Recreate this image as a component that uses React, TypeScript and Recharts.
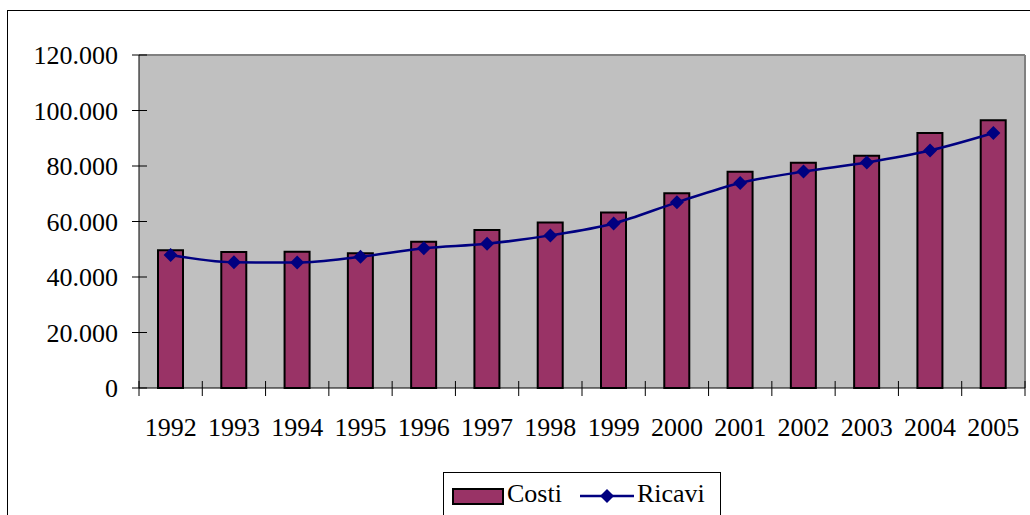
import React from "react";
import {
  ComposedChart,
  Bar,
  Line,
  XAxis,
  YAxis,
  CartesianGrid,
  Legend,
} from "recharts";

const years = ["1992", "1993", "1994", "1995", "1996", "1997", "1998", "1999", "2000", "2001", "2002", "2003", "2004", "2005"];
const costi = [49600, 49000, 49100, 48600, 52700, 56900, 59600, 63200, 70200, 77900, 81200, 83700, 91900, 96500];
const ricavi = [47900, 45300, 45200, 47300, 50400, 52000, 55000, 59300, 66900, 73900, 78000, 81300, 85600, 91900];
const yTicks = [0, 20000, 40000, 60000, 80000, 100000, 120000];

const FONT = "Liberation Serif";
const BAR = "#993366";
const LINE = "#000080";

const data = years.map((y, i) => ({ year: y, costi: costi[i], ricavi: ricavi[i] }));

const fmt = (v: number) => String(v).replace(/\B(?=(\d{3})+(?!\d))/g, ".");

const YTick = (props: any) => {
  const { x, y, payload } = props;
  const ax = x + 7 + 14;
  return (
    <g>
      <line x1={ax - 7} x2={ax + 8} y1={y} y2={y} stroke="#000" strokeWidth={1} />
      <text x={ax - 21} y={y} dy="0.35em" textAnchor="end" fontSize={26} fontFamily={FONT} fill="#000">
        {fmt(payload.value)}
      </text>
    </g>
  );
};

// etichetta anno + tacche sui bordi delle categorie
const XTick = (props: any) => {
  const { x, y, payload, index, visibleTicksCount, width } = props;
  const step = width / visibleTicksCount;
  const ay = y - 30;
  const left = x - step / 2;
  return (
    <g>
      <line x1={left} x2={left} y1={ay - 7} y2={ay + 8} stroke="#000" strokeWidth={1} />
      {index === visibleTicksCount - 1 && (
        <line x1={x + step / 2} x2={x + step / 2} y1={ay - 7} y2={ay + 8} stroke="#000" strokeWidth={1} />
      )}
      <text x={x} y={y} dy="0.71em" textAnchor="middle" fontSize={26} fontFamily={FONT} fill="#000">
        {payload.value}
      </text>
    </g>
  );
};

const Diamond = (props: any) => {
  const { cx, cy } = props;
  if (cx == null || cy == null) return null;
  const r = 7;
  return <path d={`M${cx},${cy - r}L${cx + r},${cy}L${cx},${cy + r}L${cx - r},${cy}Z`} fill={LINE} />;
};

const LegendBox = () => (
  <div style={{ paddingLeft: 443 }}>
    <div
      style={{
        width: 276,
        height: 42,
        borderTop: "1px solid #000",
        borderLeft: "1px solid #000",
        borderRight: "1px solid #000",
        display: "flex",
        alignItems: "center",
        fontFamily: FONT,
        fontSize: 26,
        color: "#000",
      }}
    >
      <div style={{ width: 48, height: 13, background: BAR, border: "2px solid #000", marginLeft: 8, marginTop: 5 }} />
      <span style={{ marginLeft: 3 }}>Costi</span>
      <svg width={54} height={20} style={{ marginLeft: 18, marginTop: 4 }}>
        <line x1={0} x2={54} y1={10} y2={10} stroke={LINE} strokeWidth={2.5} />
        <path d="M27,3L34,10L27,17L20,10Z" fill={LINE} />
      </svg>
      <span style={{ marginLeft: 3 }}>Ricavi</span>
    </div>
  </div>
);

export default function App() {
  return (
    <div style={{ position: "absolute", left: 0, top: 0, width: 1030, height: 515, overflow: "hidden", background: "#fff", fontFamily: FONT }}>
      <div style={{ position: "absolute", left: 7, top: 10, width: 1200, height: 700, border: "1px solid #000" }} />
      <div style={{ position: "absolute", left: 0, top: 0 }}>
        <ComposedChart width={1030} height={515} data={data} margin={{ top: 55, right: 5, left: 0, bottom: 0 }}>
          <CartesianGrid
            fill="#C0C0C0"
            stroke="#808080"
            strokeWidth={2}
            horizontalCoordinatesGenerator={({ offset }: any) => [offset.top]}
            verticalCoordinatesGenerator={({ offset }: any) => [offset.left + offset.width]}
          />
          <XAxis
            dataKey="year"
            height={84}
            axisLine={{ stroke: "#000", strokeWidth: 1 }}
            tickLine={false}
            tickSize={8}
            tickMargin={22}
            interval={0}
            tick={<XTick />}
          />
          <YAxis
            width={139}
            domain={[0, 120000]}
            ticks={yTicks}
            interval={0}
            tickSize={7}
            tickMargin={14}
            tickLine={false}
            tick={<YTick />}
            axisLine={{ stroke: "#000", strokeWidth: 1 }}
          />
          <Bar dataKey="costi" name="Costi" fill={BAR} stroke="#000" strokeWidth={2} barSize={25} isAnimationActive={false} />
          <Line
            dataKey="ricavi"
            name="Ricavi"
            type="monotone"
            stroke={LINE}
            strokeWidth={2.5}
            dot={<Diamond />}
            activeDot={false}
            isAnimationActive={false}
          />
          <Legend verticalAlign="bottom" content={<LegendBox />} />
        </ComposedChart>
      </div>
    </div>
  );
}
